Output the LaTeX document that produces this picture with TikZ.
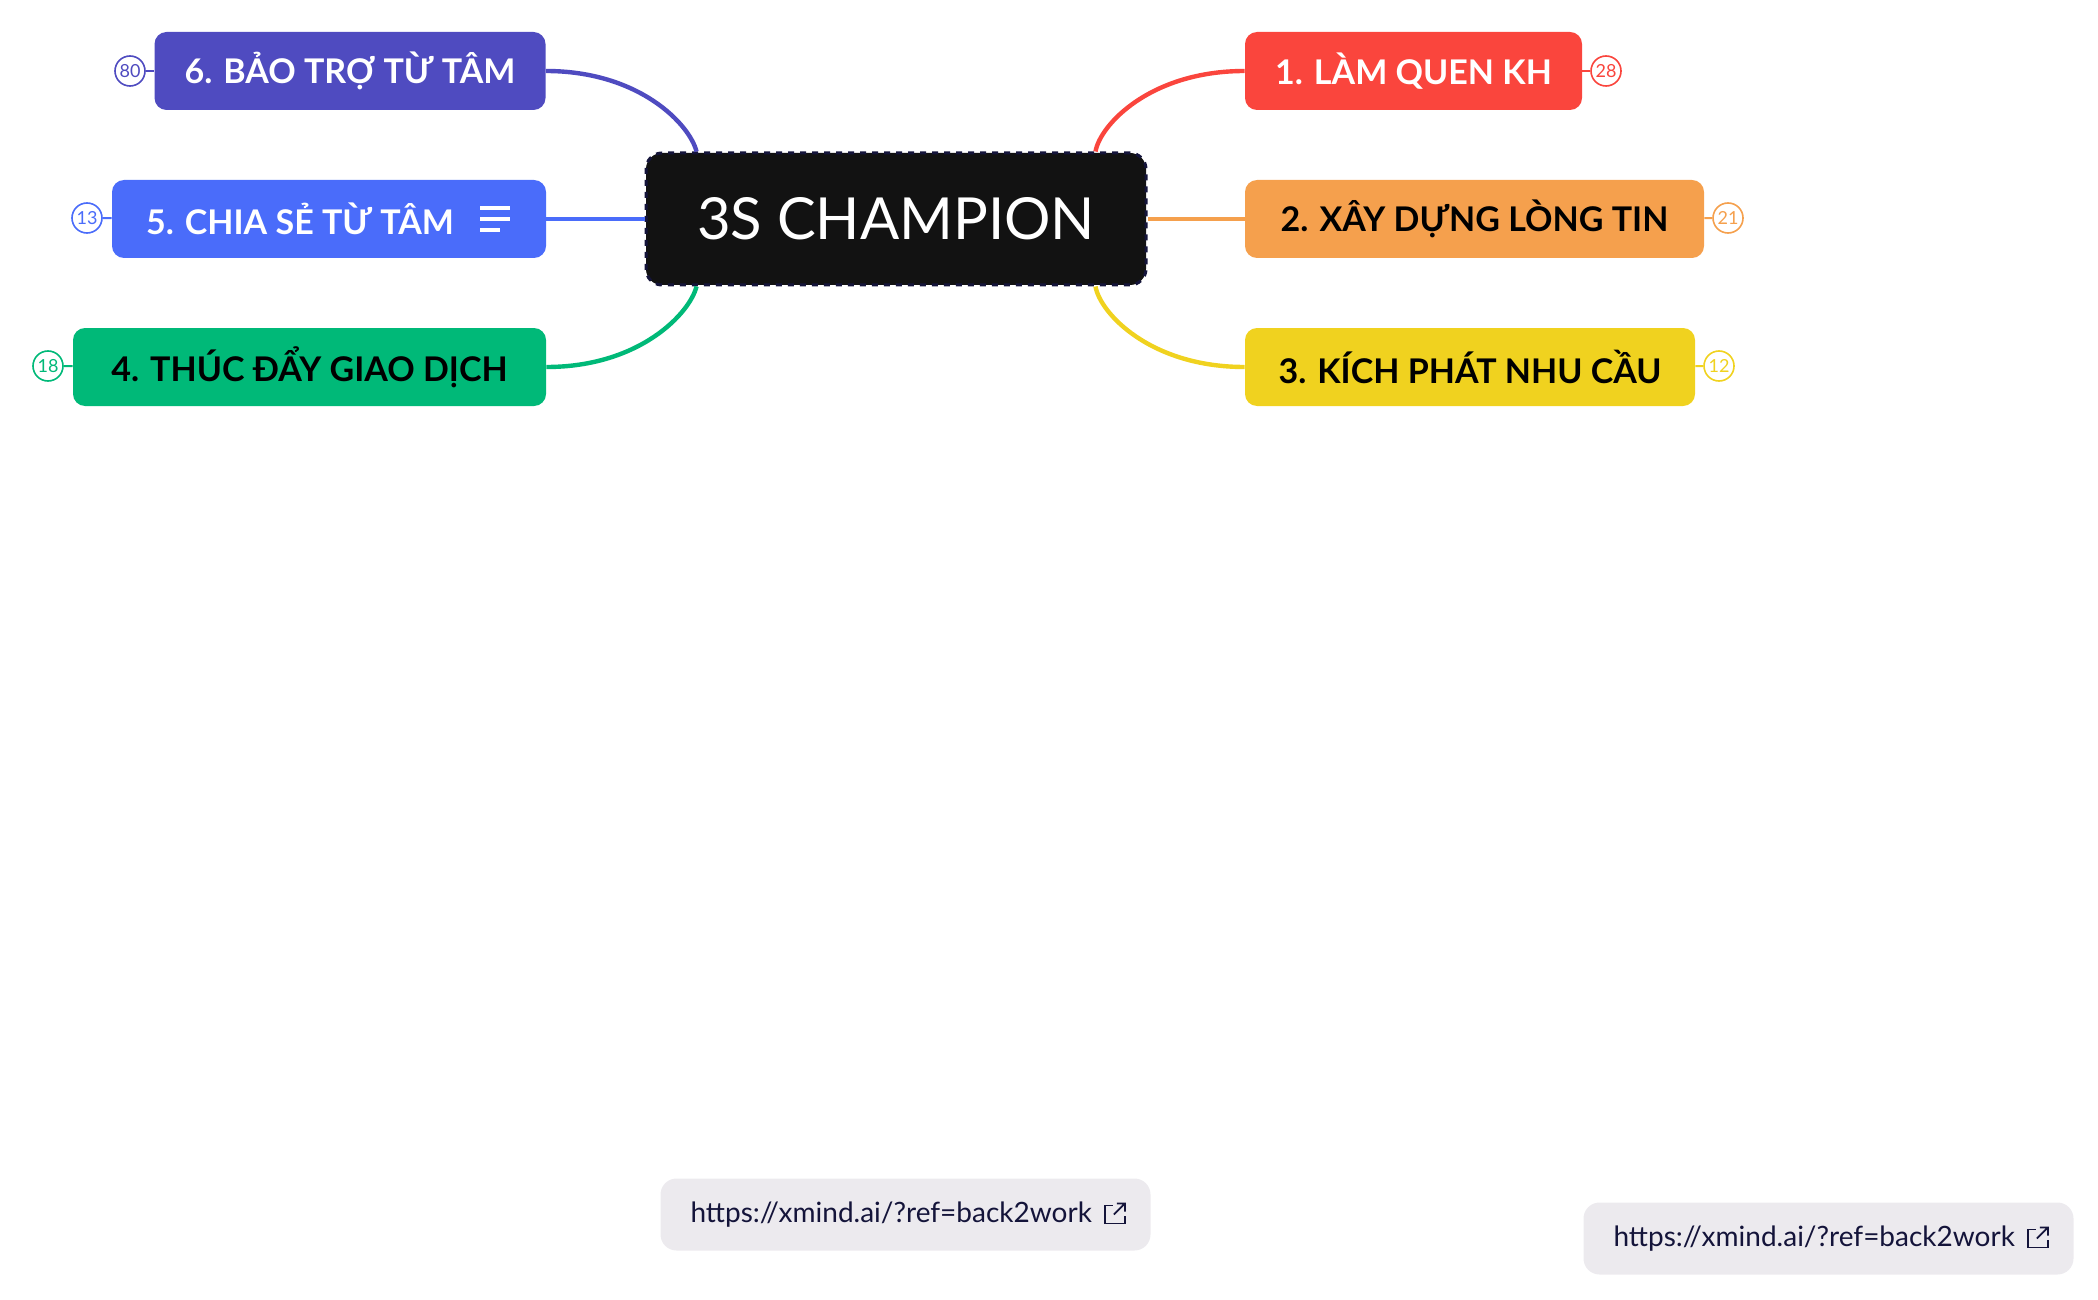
\documentclass[tikz,border=0pt]{standalone}
\usepackage{fontspec}
\setmainfont{Lato}
\usetikzlibrary{positioning}
\definecolor{cviolet}{HTML}{4F4BC0}
\definecolor{cblue}{HTML}{4A6CFA}
\definecolor{cgreen}{HTML}{00B978}
\definecolor{cred}{HTML}{FA453D}
\definecolor{corange}{HTML}{F5A04D}
\definecolor{cyellow}{HTML}{F0D21F}
\definecolor{cgrey}{HTML}{ECEAEE}
\definecolor{cnavy}{HTML}{14143A}
\tikzset{
  topic/.style={rounded corners=6pt, minimum height=39pt, inner sep=0pt,
    font=\fontsize{17}{20}\selectfont\bfseries},
  branch/.style={line width=2.2pt},
  count/.style={circle, draw, fill=white, line width=0.8pt, inner sep=0pt,
    minimum size=15pt, font=\fontsize{9}{10}\selectfont},
  link/.style={fill=cgrey, rounded corners=8pt, minimum width=245pt,
    minimum height=36pt, text=cnavy, font=\fontsize{14}{16}\selectfont,
    text width=215pt, align=left},
}
% external link icon, drawn around the current origin
\newcommand{\extlink}{
  \draw[cnavy, line width=0.9pt] (-2,-9) -- (-10,-9) -- (-10,9) -- (10,9) -- (10,1);
  \draw[cnavy, line width=0.9pt] (-1,0) -- (10,-11) (2,-11) -- (10,-11) -- (10,-3);
}
\begin{document}
\begin{tikzpicture}[x=0.5pt, y=-0.5pt]
\useasboundingbox (0,0) rectangle (2098,1300);
% central topic
\node[fill=black!93, draw=cnavy, dashed, line width=1.5pt, rounded corners=8pt,
  minimum width=250pt, minimum height=66pt, text=white,
  font=\fontsize{29}{32}\selectfont] (center) at (896,219) {3S CHAMPION};
% main topics
\node[topic, fill=cviolet, text=white, minimum width=195.5pt] (b6) at (350,71) {6. BẢO TRỢ TỪ TÂM};
\node[topic, fill=cblue, text=white, minimum width=217pt] (b5) at (329,219) {};
\node[text=white, font=\fontsize{17}{20}\selectfont\bfseries] (t5) at (300,219) {5. CHIA SẺ TỪ TÂM};
\node[topic, fill=cgreen, minimum width=236.5pt] (b4) at (309.5,367) {4. THÚC ĐẨY GIAO DỊCH};
\node[topic, fill=cred, text=white, minimum width=168.5pt] (b1) at (1413.5,71) {1. LÀM QUEN KH};
\node[topic, fill=corange, minimum width=229.5pt] (b2) at (1474.5,219) {2. XÂY DỰNG LÒNG TIN};
\node[topic, fill=cyellow, minimum width=225pt] (b3) at (1470,367) {3. KÍCH PHÁT NHU CẦU};
% note icon
\foreach \y/\w in {208/30,219/30,230/20}
  \draw[white, line width=2.2pt] (480,\y) -- (480+\w,\y);
% branches
\draw[branch, cviolet] (b6.east) .. controls (640,71) and (690,125) .. ([xshift=26pt]center.north west);
\draw[branch, cblue] (b5.east) -- (center.west);
\draw[branch, cgreen] (b4.east) .. controls (640,367) and (690,313) .. ([xshift=26pt]center.south west);
\draw[branch, cred] (b1.west) .. controls (1150,71) and (1100,125) .. ([xshift=-26pt]center.north east);
\draw[branch, corange] (b2.west) -- (center.east);
\draw[branch, cyellow] (b3.west) .. controls (1150,367) and (1100,313) .. ([xshift=-26pt]center.south east);
% counters
\node[count, draw=cviolet, text=cviolet] (n6) at (130,71) {80};
\node[count, draw=cblue, text=cblue] (n5) at (87,218) {13};
\node[count, draw=cgreen, text=cgreen] (n4) at (48,366) {18};
\node[count, draw=cred, text=cred] (n1) at (1606,71) {28};
\node[count, draw=corange, text=corange] (n2) at (1728,218) {21};
\node[count, draw=cyellow, text=cyellow] (n3) at (1719,366) {12};
\draw[cviolet, line width=1pt] (n6) -- (b6);
\draw[cblue, line width=1pt] (n5) -- (b5);
\draw[cgreen, line width=1pt] (n4) -- (b4);
\draw[cred, line width=1pt] (n1) -- (b1);
\draw[corange, line width=1pt] (n2) -- (b2);
\draw[cyellow, line width=1pt] (n3) -- (b3);
% links
\node[link] (url1) at (905.5,1214.5) {https://xmind.ai/?ref=back2work};
\node[link] (url2) at (1828.5,1238.5) {https://xmind.ai/?ref=back2work};
\begin{scope}[shift={([xshift=-18pt]url1.east)}] \extlink \end{scope}
\begin{scope}[shift={([xshift=-18pt]url2.east)}] \extlink \end{scope}
\end{tikzpicture}
\end{document}
